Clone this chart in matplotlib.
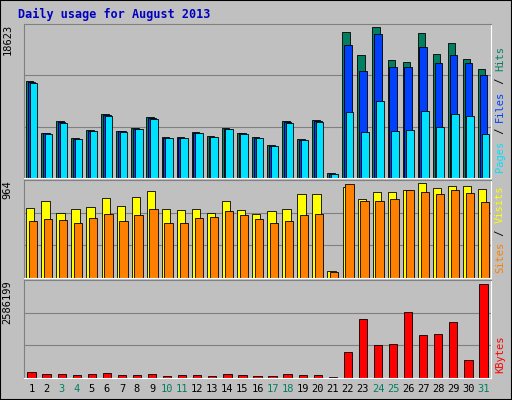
import matplotlib
matplotlib.use("Agg")
import matplotlib.pyplot as plt
import numpy as np

days = list(range(1, 32))
weekend = [3, 4, 10, 11, 17, 18, 24, 25, 31]

hits = [12000, 5600, 7000, 4900, 5950, 7900, 5850, 6200, 7500, 5050, 5050, 5700, 5200, 6200, 5600,
        5050, 4050, 7000, 4800, 7100, 560, 17990, 15220, 18623, 14590, 14340, 17860, 15350, 16600, 14720, 13460]
files = [11800, 5500, 6900, 4850, 5850, 7750, 5750, 6100, 7400, 4980, 4980, 5600, 5100, 6100, 5500,
         4980, 3980, 6900, 4720, 7000, 530, 16350, 13210, 17740, 13710, 13710, 16100, 14210, 15220, 14210, 12700]
pages = [11700, 5410, 6790, 4780, 5790, 7670, 5660, 6040, 7300, 4910, 4910, 5540, 5030, 6040, 5410,
         4910, 3900, 6790, 4650, 6920, 500, 8180, 5660, 9440, 5790, 5910, 8300, 6290, 7930, 7670, 5410]
visits = [713, 776, 660, 702, 723, 807, 734, 817, 880, 702, 692, 702, 660, 776, 692,
          650, 681, 702, 849, 849, 73, 922, 796, 870, 870, 891, 964, 912, 933, 933, 901]
sites = [576, 597, 587, 555, 608, 650, 576, 639, 702, 555, 555, 608, 618, 681, 639,
         597, 555, 576, 639, 650, 63, 954, 776, 776, 796, 891, 870, 849, 891, 859, 765]
kbytes = [169000, 112000, 112000, 84000, 112000, 141000, 84000, 84000, 112000, 56000, 84000, 84000, 56000, 112000, 84000,
          56000, 56000, 112000, 84000, 84000, 28000, 703000, 1630000, 900000, 928000, 1799000, 1181000, 1209000, 1546000, 506000, 2586199]

W, H = 512, 400
fig = plt.figure(figsize=(W / 100, H / 100), dpi=100)
fig.patch.set_facecolor("#C0C0C0")
mono = "DejaVu Sans Mono"

# outer border
fig.add_artist(plt.Rectangle((0, 0), 1, 1, transform=fig.transFigure, fill=False, ec="black", lw=1.5))

fig.text(18 / W, 1 - 14 / H, "Daily usage for August 2013", color="#0000C0",
         fontsize=8.5, fontweight="bold", family=mono, va="center")


def panel(y0, y1):
    ax = fig.add_axes([24 / W, 1 - y1 / H, (491 - 24) / W, (y1 - y0) / H])
    ax.set_facecolor("#C0C0C0")
    ax.set_xlim(0.5, 31.5)
    ax.set_xticks([])
    ax.set_yticks([])
    for s in ax.spines.values():
        s.set_color("#808080")
    ax.spines["bottom"].set_color("white")
    ax.spines["right"].set_color("white")
    return ax


x = np.array(days)
bk = dict(edgecolor="black", linewidth=0.6)

ax1 = panel(24, 178)
ax1.set_ylim(0, max(hits) * 1.02)
for f in (1 / 3, 2 / 3):
    ax1.axhline(max(hits) * f * 1.02, color="#808080", lw=0.8, zorder=0)
ax1.bar(x - 0.12, hits, width=0.5, color="#008060", **bk)
ax1.bar(x, files, width=0.5, color="#0040FF", **bk)
ax1.bar(x + 0.12, pages, width=0.5, color="#00E0FF", **bk)

ax2 = panel(180, 278)
ax2.set_ylim(0, max(visits) * 1.03)
for f in (1 / 3, 2 / 3):
    ax2.axhline(max(visits) * f * 1.03, color="#808080", lw=0.8, zorder=0)
ax2.bar(x - 0.08, visits, width=0.55, color="#FFFF00", **bk)
ax2.bar(x + 0.1, sites, width=0.55, color="#FF8000", **bk)

ax3 = panel(280, 378)
ax3.set_ylim(0, max(kbytes) * 1.04)
for f in (1 / 3, 2 / 3):
    ax3.axhline(max(kbytes) * f * 1.04, color="#808080", lw=0.8, zorder=0)
ax3.bar(x, kbytes, width=0.55, color="#FF0000", **bk)

for ax, top in ((ax1, max(hits)), (ax2, max(visits)), (ax3, max(kbytes))):
    ax.text(-0.035, 1.0, str(top), transform=ax.transAxes, rotation=90, va="top", ha="center",
            fontsize=7.5, family=mono)

for d in days:
    fig.text((24 + (d - 0.5) * (467 / 31)) / W, 1 - 389 / H, str(d), ha="center", va="center",
             fontsize=7.5, family=mono, color="#008060" if d in weekend else "black")


def side_label(y_bottom, parts):
    step = 6.3
    y = y_bottom
    for txt, col in parts:
        fig.text(500 / W, 1 - y / H, txt, rotation=90, color=col, fontsize=7.5, family=mono,
                 ha="center", va="bottom")
        y -= step * len(txt)


side_label(172, [("Pages", "#00E0FF"), (" / ", "black"), ("Files", "#0040FF"), (" / ", "black"), ("Hits", "#008060")])
side_label(273, [("Sites", "#FF8000"), (" / ", "black"), ("Visits", "#FFFF00")])
side_label(373, [("KBytes", "#FF0000")])

fig.savefig("out.png", dpi=100, facecolor=fig.get_facecolor())
